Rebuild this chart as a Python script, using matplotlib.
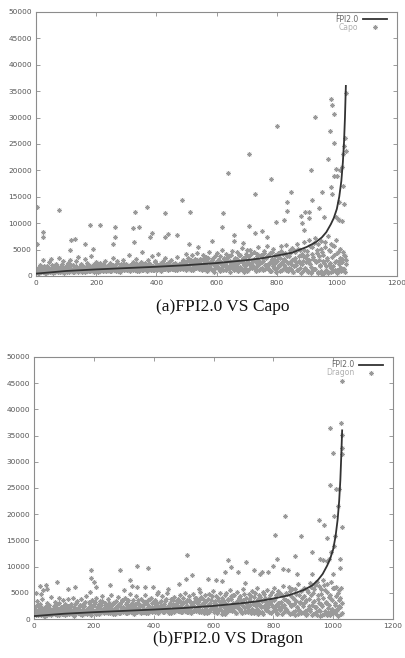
import numpy as np
import matplotlib
matplotlib.use("Agg")
import matplotlib.pyplot as plt

# ---------------- data ----------------
# FPI2.0 sorted curve (x index, value)
fpi_x = [0, 50, 100, 200, 300, 400, 500, 600, 700, 750, 800, 850, 900, 930, 950, 965, 980, 990, 1000, 1008, 1015, 1020, 1024, 1027, 1030]
fpi_top = [450, 700, 950, 1250, 1500, 1750, 2050, 2450, 3000, 3350, 3850, 4400, 5500, 6400, 7300, 8300, 9800, 11000, 12700, 15000, 18000, 21500, 25500, 30000, 36000]
fpi_bot = [550, 780, 1000, 1300, 1550, 1800, 2100, 2500, 3050, 3400, 3900, 4500, 5500, 6400, 7500, 8600, 10200, 11500, 13300, 15800, 19000, 22500, 26500, 31000, 36000]

# Capo: dense band (samples at indices 0,3,6,...), values in thousands
capo_band = [
    1.2, 0.8, 1.6, 0.6, 2.1, 1.0, 0.7, 1.4, 3.0, 0.9, 1.1, 0.5, 1.8, 0.8, 2.6, 1.3, 0.7, 3.2, 1.0, 0.6,
    1.5, 0.9, 2.2, 1.1, 0.7, 3.4, 1.3, 0.8, 1.9, 1.0, 2.8, 0.6, 1.2, 1.7, 0.9, 2.4, 1.1, 0.8, 3.1, 1.4,
    1.0, 2.0, 0.7, 1.6, 2.9, 1.2, 0.9, 3.6, 1.5, 1.1, 2.3, 0.8, 1.8, 1.3, 3.3, 1.0, 2.5, 0.9, 1.4, 2.1,
    1.2, 3.8, 1.6, 0.9, 2.2, 1.4, 2.7, 1.0, 1.9, 0.8, 1.5, 2.4, 1.1, 1.7, 0.9, 2.0, 1.3, 2.8, 1.0, 1.6,
    1.8, 1.1, 2.5, 0.9, 1.4, 3.5, 1.2, 2.0, 1.6, 1.0, 2.9, 1.3, 1.7, 0.8, 2.2, 1.5, 3.1, 1.1, 1.9, 1.4,
    2.3, 1.2, 1.7, 3.9, 1.0, 2.0, 1.5, 2.6, 1.1, 1.8, 1.3, 3.2, 1.6, 2.1, 0.9, 1.4, 2.7, 1.2, 4.5, 1.7,
    1.3, 2.4, 1.8, 1.0, 3.0, 1.5, 2.2, 1.2, 3.7, 1.6, 1.9, 1.1, 2.8, 1.4, 2.0, 4.2, 1.3, 1.7, 2.5, 1.0,
    1.8, 2.9, 1.4, 3.4, 1.6, 2.1, 1.2, 2.6, 1.9, 1.5, 3.1, 1.3, 2.3, 1.7, 1.1, 2.0, 3.6, 1.5, 2.2, 1.8,
    1.4, 2.5, 1.9, 3.0, 1.6, 2.2, 4.1, 1.3, 3.5, 2.0, 1.7, 2.8, 1.2, 3.9, 2.4, 1.5, 3.2, 2.1, 4.4, 1.8,
    2.6, 1.4, 3.3, 2.0, 1.1, 4.0, 2.3, 1.7, 3.6, 0.9, 2.8, 1.5, 4.6, 2.1, 1.3, 3.0, 2.5, 0.8, 3.8, 1.9,
    2.4, 4.3, 1.6, 3.1, 0.9, 2.7, 5.0, 1.8, 3.4, 2.2, 1.2, 4.1, 2.9, 1.5, 3.7, 0.7, 2.5, 4.8, 1.9, 3.0,
    1.4, 3.5, 2.2, 4.5, 1.0, 2.8, 3.9, 1.6, 5.3, 2.4, 0.8, 3.3, 1.9, 4.2, 2.6, 1.2, 3.7, 4.9, 2.0, 1.5,
    3.1, 4.6, 1.7, 2.9, 0.9, 3.8, 5.4, 2.3, 1.3, 4.0, 2.7, 3.4, 1.1, 4.8, 2.1, 3.6, 5.7, 1.6, 2.5, 4.3,
    1.0, 3.2, 2.4, 5.1, 1.5, 3.9, 0.8, 2.8, 4.4, 1.9, 3.5, 5.6, 2.2, 1.2, 4.1, 3.0, 1.7, 5.9, 2.6, 0.9,
    3.7, 4.9, 1.4, 2.9, 5.3, 0.7, 3.3, 4.5, 2.0, 6.1, 1.1, 3.8, 2.5, 5.0, 0.6, 4.2, 2.8, 6.5, 1.6, 3.4,
    4.8, 1.0, 3.0, 6.8, 2.2, 0.5, 5.5, 3.6, 1.4, 7.2, 2.7, 4.4, 0.8, 6.0, 3.1, 1.8, 5.1, 0.4, 4.0, 2.4,
    6.4, 1.2, 3.5, 0.6, 7.6, 2.0, 4.7, 1.5, 5.8, 0.9, 3.9, 2.6, 6.9, 1.1, 4.3, 0.7, 2.9, 5.2, 1.6, 3.3,
    4.6, 1.3, 3.8, 2.2,
]
# Capo: second dense band (samples at indices 1,4,7,...), thousands
capo_band2 = [
    0.9, 1.3, 0.6, 1.0, 1.5, 0.8, 1.2, 0.7, 1.9, 1.1, 0.6, 1.4, 0.9, 1.7, 1.0, 0.8, 1.3, 2.0, 0.7, 1.1,
    1.6, 0.8, 1.2, 1.9, 0.9, 1.4, 0.7, 1.1, 2.2, 1.3, 0.8, 1.5, 1.0, 1.8, 0.7, 1.2, 1.6, 0.9, 1.3, 2.0,
    1.1, 0.8, 1.5, 1.0, 1.8, 1.3, 0.7, 1.6, 1.2, 0.9, 2.1, 1.4, 1.0, 1.7, 0.8, 1.3, 1.9, 1.1, 0.9, 1.5,
    1.0, 1.4, 1.8, 1.1, 0.8, 1.6, 1.3, 2.1, 1.0, 1.5, 1.2, 0.9, 1.7, 1.3, 2.3, 1.1, 1.5, 0.9, 1.8, 1.2,
    1.5, 1.2, 0.9, 1.7, 1.3, 2.0, 1.1, 1.6, 1.4, 2.4, 1.0, 1.5, 1.2, 1.9, 1.4, 1.1, 1.7, 2.2, 1.3, 1.6,
    1.2, 1.8, 1.4, 1.1, 2.1, 1.5, 1.3, 1.9, 1.6, 1.2, 2.5, 1.4, 1.0, 1.8, 1.5, 2.2, 1.3, 1.7, 1.1, 2.0,
    1.6, 1.3, 2.0, 1.5, 1.2, 2.3, 1.7, 1.4, 1.9, 1.1, 1.6, 2.6, 1.4, 1.8, 1.2, 2.1, 1.5, 1.3, 2.4, 1.7,
    1.4, 2.0, 1.6, 1.3, 2.2, 1.8, 1.5, 2.7, 1.3, 1.9, 1.6, 2.3, 1.4, 1.7, 2.5, 1.5, 1.2, 2.1, 1.8, 1.6,
    2.0, 1.5, 2.6, 1.3, 1.8, 2.3, 1.1, 2.9, 1.7, 2.1, 1.4, 3.0, 1.6, 2.4, 1.2, 2.7, 1.9, 1.5, 3.1, 2.2,
    1.6, 2.9, 1.3, 2.3, 1.8, 3.2, 1.4, 2.6, 2.0, 1.1, 3.4, 1.7, 2.4, 1.5, 2.9, 1.2, 3.5, 2.1, 1.6, 2.7,
    1.8, 3.1, 1.4, 2.5, 3.8, 1.6, 2.2, 1.1, 3.3, 2.0, 2.7, 1.5, 3.6, 1.9, 1.3, 2.8, 3.9, 1.7, 2.3, 1.2,
    2.6, 1.8, 3.2, 1.3, 2.4, 4.0, 1.7, 2.9, 1.2, 3.5, 2.1, 1.5, 3.8, 2.5, 1.0, 3.0, 2.2, 1.6, 4.1, 2.7,
    1.9, 3.3, 1.4, 2.6, 4.2, 1.8, 3.0, 1.2, 2.4, 3.7, 1.6, 2.8, 4.4, 1.3, 3.4, 2.0, 1.5, 3.9, 2.3, 1.0,
    2.9, 4.5, 1.8, 3.3, 1.3, 2.5, 4.0, 1.6, 3.6, 2.1, 0.9, 4.7, 2.7, 1.4, 3.2, 2.0, 4.3, 1.1, 3.8, 2.4,
    1.5, 4.4, 2.2, 3.0, 0.8, 4.9, 1.9, 3.5, 2.6, 1.2, 5.2, 2.9, 1.6, 4.0, 2.3, 0.9, 3.7, 5.0, 1.4, 2.7,
    3.9, 0.7, 2.5, 5.6, 1.7, 4.2, 0.9, 3.2, 6.2, 1.3, 2.8, 5.0, 0.6, 3.7, 2.1, 6.6, 1.0, 4.6, 2.9, 0.5,
    5.4, 1.8, 3.0, 0.8, 4.9, 2.4, 6.1, 0.7, 3.6, 1.9, 5.6, 1.2, 2.8, 0.5, 4.5, 2.2, 1.5, 3.4, 0.9, 2.6,
    1.4, 4.0, 0.8, 3.1,
]
# Capo: scattered high values (index, thousands)
capo_out_x = [4, 4, 24, 24, 76, 116, 131, 113, 163, 181, 212, 190, 255, 262, 262, 321, 329, 326, 344, 369,
              379, 385, 428, 428, 440, 468, 484, 513, 509, 540, 586, 617, 621, 638, 658, 658, 688, 700, 709, 709,
              729, 728, 751, 767, 782, 800, 798, 825, 833, 833, 846, 881, 883, 890, 893, 906, 909, 914, 917, 927,
              940, 951, 956, 972, 978, 981, 985, 992, 992, 980, 983, 989, 998, 1000, 1006, 1011, 1017, 1020, 1022, 1024,
              1027, 1029, 1029, 1025, 998, 1003, 1007, 1018]
capo_out_y = [13.1, 6.05, 8.4, 7.3, 12.5, 6.9, 7.0, 5.0, 6.05, 9.6, 9.6, 5.2, 6.05, 9.3, 7.3, 9.0, 12.1, 6.4, 9.2, 13.0,
              7.3, 8.1, 12.0, 7.4, 7.9, 7.7, 14.4, 12.1, 6.05, 5.5, 6.7, 9.3, 11.9, 19.5, 7.7, 6.7, 6.3, 4.9, 23.1, 9.5,
              15.5, 8.2, 8.6, 7.3, 18.3, 28.4, 10.2, 10.7, 14.0, 12.4, 15.9, 11.4, 10.1, 8.7, 12.2, 11.0, 12.1, 20.0, 14.4, 30.1,
              12.9, 15.9, 11.1, 22.1, 27.4, 33.5, 32.4, 30.6, 25.2, 16.8, 15.6, 19.0, 20.2, 19.0, 14.1, 20.0, 20.7, 17.0, 23.1, 24.7,
              26.2, 34.7, 23.7, 13.6, 11.2, 10.8, 10.6, 10.5]

# Dragon: dense band (samples at indices 0,3,6,...), thousands
dragon_band = [
    1.6, 0.9, 2.4, 3.5, 1.2, 0.7, 1.9, 2.8, 1.0, 3.9, 1.4, 0.6, 2.2, 1.1, 3.1, 0.8, 1.7, 2.6, 1.3, 4.2,
    0.9, 2.0, 1.5, 3.3, 1.1, 2.7, 0.7, 1.8, 4.0, 1.2, 2.3, 1.0, 3.6, 1.6, 0.8, 2.9, 1.3, 2.1, 3.8, 1.0,
    1.9, 2.5, 1.1, 4.1, 1.5, 0.6, 2.8, 1.8, 3.4, 1.2, 2.2, 0.9, 3.9, 1.6, 2.6, 1.0, 3.0, 1.4, 4.3, 2.0,
    1.2, 3.2, 1.7, 2.4, 0.8, 3.7, 1.5, 2.9, 1.1, 4.0, 1.9, 2.3, 1.0, 3.4, 1.6, 2.7, 4.4, 1.3, 2.0, 3.0,
    1.4, 2.6, 3.8, 1.1, 2.2, 1.7, 4.6, 1.3, 3.1, 2.0, 1.0, 3.5, 1.8, 2.5, 4.2, 1.2, 2.9, 1.6, 3.7, 2.3,
    1.5, 4.0, 2.1, 1.2, 3.3, 2.7, 1.7, 4.8, 1.4, 2.4, 3.6, 1.0, 2.9, 1.9, 4.3, 1.3, 3.0, 2.2, 1.6, 3.9,
    2.5, 1.4, 3.4, 1.9, 4.5, 1.1, 2.8, 3.7, 1.6, 2.2, 4.1, 1.3, 3.0, 2.0, 1.5, 3.6, 2.6, 4.7, 1.2, 2.3,
    3.2, 1.8, 2.7, 4.4, 1.4, 2.1, 3.5, 1.7, 4.9, 2.4, 1.2, 3.1, 2.0, 3.8, 1.5, 2.9, 4.2, 1.9, 2.5, 3.4,
    1.6, 3.9, 2.2, 4.6, 1.3, 2.8, 3.3, 1.8, 5.0, 2.5, 1.4, 3.7, 2.0, 4.3, 1.7, 3.0, 2.4, 4.8, 1.5, 3.5,
    2.1, 4.0, 1.8, 3.2, 2.6, 5.1, 1.4, 2.9, 3.8, 1.6, 4.5, 2.3, 3.4, 1.2, 2.7, 4.7, 1.9, 3.6, 2.2, 5.3,
    1.7, 3.1, 2.5, 4.4, 1.3, 3.7, 2.0, 5.0, 2.8, 1.5, 4.1, 2.4, 3.3, 0.9, 4.9, 2.1, 3.6, 1.8, 5.5, 2.7,
    3.9, 1.6, 4.6, 2.3, 3.0, 1.1, 5.2, 2.6, 3.8, 1.9, 4.3, 1.4, 3.4, 5.7, 2.2, 1.3, 4.0, 2.9, 1.7, 4.8,
    2.4, 3.5, 1.2, 5.4, 2.8, 4.2, 1.6, 3.2, 5.9, 2.0, 1.0, 4.5, 2.6, 3.7, 1.4, 5.1, 2.2, 4.0, 1.8, 3.3,
    5.6, 1.5, 2.9, 4.6, 1.1, 3.6, 2.3, 6.0, 1.7, 4.1, 2.7, 0.9, 5.3, 3.1, 1.9, 4.7, 2.5, 6.3, 1.3, 3.8,
    2.1, 5.0, 1.6, 3.4, 6.2, 1.0, 4.3, 2.6, 5.7, 1.4, 3.9, 0.8, 4.8, 2.3, 6.6, 1.8, 3.2, 5.4, 1.2, 4.1,
    2.8, 6.0, 1.5, 3.7, 0.9, 5.2, 2.4, 6.9, 1.9, 4.5, 0.7, 3.3, 5.8, 2.2, 1.3, 7.1, 3.9, 1.7, 6.3, 0.6,
    4.7, 2.5, 7.4, 1.0, 5.5, 3.0, 0.8, 6.7, 2.1, 4.2, 1.4, 7.0, 3.6, 1.1, 5.9, 2.7, 0.9, 6.2, 1.8, 4.9,
    5.6, 2.3, 6.0, 1.2,
]
# Dragon: second dense band (samples at indices 1,4,7,...), thousands
dragon_band2 = [
    1.2, 2.0, 0.8, 1.5, 2.6, 1.0, 1.8, 0.7, 2.3, 1.3, 1.0, 1.9, 0.6, 1.6, 2.4, 1.1, 0.9, 2.0, 1.4, 0.8,
    1.7, 1.1, 2.5, 0.9, 1.4, 2.1, 1.2, 3.0, 0.8, 1.6, 1.3, 2.2, 1.0, 1.8, 2.7, 1.2, 0.9, 1.5, 2.4, 1.1,
    1.4, 2.8, 1.0, 1.7, 2.2, 0.9, 1.5, 3.1, 1.3, 2.0, 1.1, 2.6, 1.6, 0.8, 1.9, 2.4, 1.2, 3.3, 1.5, 1.0,
    2.1, 1.4, 2.9, 1.1, 1.8, 2.5, 1.3, 1.6, 3.2, 1.0, 2.2, 1.5, 2.8, 1.2, 1.9, 3.4, 1.4, 2.0, 1.1, 2.6,
    1.3, 2.3, 1.7, 3.0, 1.2, 2.0, 1.5, 2.7, 1.0, 1.8, 3.3, 1.4, 2.2, 1.6, 2.9, 1.1, 2.4, 1.7, 3.5, 1.3,
    2.1, 1.6, 2.8, 1.2, 3.6, 1.9, 1.4, 2.5, 1.7, 3.1, 1.1, 2.3, 1.8, 2.9, 1.3, 2.0, 3.7, 1.5, 2.6, 1.2,
    1.8, 2.7, 1.4, 3.2, 2.0, 1.6, 2.9, 1.2, 2.3, 3.8, 1.5, 2.1, 1.7, 3.3, 1.3, 2.5, 1.9, 3.0, 1.4, 2.2,
    1.6, 3.4, 1.9, 2.4, 1.3, 2.8, 2.0, 3.9, 1.5, 2.2, 1.8, 3.1, 1.2, 2.6, 2.0, 3.6, 1.4, 2.3, 1.7, 3.0,
    2.2, 1.5, 3.5, 1.9, 2.7, 1.3, 4.0, 2.1, 1.6, 3.2, 2.5, 1.4, 3.7, 1.8, 2.3, 1.2, 3.0, 2.6, 1.7, 4.1,
    1.5, 3.0, 2.0, 3.6, 1.3, 2.4, 4.2, 1.8, 2.8, 1.1, 3.4, 2.2, 1.6, 3.9, 2.6, 1.4, 3.1, 1.9, 4.4, 2.3,
    1.4, 3.5, 2.1, 2.8, 1.2, 4.0, 1.9, 3.2, 2.5, 1.0, 3.7, 2.3, 4.5, 1.6, 2.9, 1.3, 3.8, 2.4, 1.8, 4.3,
    2.0, 3.1, 1.5, 4.6, 2.6, 1.2, 3.4, 2.1, 4.1, 1.7, 2.9, 1.1, 3.6, 2.4, 4.8, 1.6, 3.0, 2.2, 1.3, 3.9,
    2.7, 1.5, 4.4, 2.0, 3.3, 1.2, 4.9, 2.5, 1.8, 3.8, 2.9, 1.4, 4.2, 2.2, 3.5, 1.0, 4.7, 2.6, 1.7, 3.1,
    2.3, 4.0, 1.4, 3.4, 2.8, 5.1, 1.6, 3.7, 2.0, 4.5, 1.2, 3.0, 2.5, 5.0, 1.8, 3.3, 0.9, 4.3, 2.6, 1.5,
    3.6, 2.0, 4.8, 1.3, 3.1, 5.3, 2.4, 1.1, 4.1, 2.8, 5.8, 1.6, 3.5, 2.2, 0.9, 4.6, 3.0, 1.4, 5.5, 2.5,
    1.2, 4.3, 3.2, 0.8, 5.6, 2.0, 3.8, 1.5, 6.1, 2.7, 4.9, 1.0, 3.5, 6.4, 2.3, 0.7, 4.5, 3.0, 1.6, 5.8,
    2.9, 0.8, 4.0, 6.5, 1.5, 3.3, 5.2, 1.1, 2.6, 4.6, 0.7, 3.8, 2.0, 5.9, 1.3, 3.1, 4.4, 1.9, 0.6, 3.6,
    2.4, 4.1, 1.0, 3.0,
]
dragon_out_x = [20, 29, 39, 22, 6, 42, 78, 115, 138, 192, 192, 201, 207, 187, 254, 287, 300, 321, 327, 345,
                343, 372, 381, 398, 416, 448, 485, 507, 511, 528, 551, 582, 610, 628, 640, 649, 657, 683, 710, 705,
                735, 755, 763, 783, 800, 805, 811, 831, 838, 850, 872, 894, 880, 928, 930, 954, 969, 978, 989, 989,
                1000, 1004, 1006, 1011, 1017, 1020, 1027, 1028, 1029, 1031, 1031, 1029, 1022, 1024, 993, 1003, 986, 967,
                955, 978, 1000]
dragon_out_y = [6.3, 5.6, 6.5, 4.8, 4.9, 5.8, 7.1, 5.8, 6.2, 9.3, 7.9, 7.0, 6.1, 5.2, 6.5, 9.4, 5.6, 7.4, 6.3, 10.2,
                6.2, 6.2, 9.8, 6.2, 5.2, 5.7, 6.7, 7.7, 12.3, 8.4, 5.8, 7.6, 7.5, 7.2, 8.9, 11.2, 10.0, 9.0, 10.8, 6.9,
                9.3, 8.6, 9.0, 9.0, 10.2, 16.0, 11.5, 9.5, 19.6, 9.3, 12.1, 15.8, 8.5, 12.8, 8.5, 18.9, 17.9, 15.5, 36.4, 25.6,
                31.7, 19.6, 15.9, 24.9, 21.6, 24.9, 37.4, 45.4, 35.2, 31.4, 32.6, 17.5, 11.4, 9.8, 12.8, 14.0, 11.4, 11.2,
                11.4, 11.0, 8.5]

x_ticks = [0, 200, 400, 600, 800, 1000, 1200]
y_ticks = [0, 5000, 10000, 15000, 20000, 25000, 30000, 35000, 40000, 45000, 50000]

# ---------------- style ----------------
PT_COLOR = "#9a9a9a"
LINE_COLOR = "#333333"
FRAME = "#8c8c8c"
TICKLAB = "#555555"
MARKER = (8, 2, 0)

fig = plt.figure(figsize=(4.05, 6.58), dpi=100)
fig.patch.set_facecolor("white")


def panel(rect, band, band2, ox, oy, curve, name, title, title_xy, leg_y):
    ax = fig.add_axes(rect)
    bx = np.arange(len(band)) * 3
    bx2 = np.arange(len(band2)) * 3 + 1
    for xs, ys in ((bx, band), (bx2, band2), (ox, oy)):
        ax.scatter(xs, np.array(ys) * 1000, marker=MARKER, s=9, linewidths=0.55,
                   color=PT_COLOR, zorder=2)
    ax.plot(fpi_x, curve, color=LINE_COLOR, lw=1.3, zorder=3)
    ax.set_xlim(0, 1200)
    ax.set_ylim(0, 50000)
    ax.set_xticks(x_ticks)
    ax.set_yticks(y_ticks)
    ax.tick_params(direction="in", length=3, width=0.6, color=FRAME,
                   labelsize=5.3, labelcolor=TICKLAB, top=True, right=True, pad=3)
    for s in ax.spines.values():
        s.set_color(FRAME)
        s.set_linewidth(0.8)
    # legend, gnuplot style
    ax.text(0.893, leg_y, "FPI2.0", transform=ax.transAxes, ha="right", va="center",
            fontsize=5.5, color="#666666")
    ax.plot([0.906, 0.972], [leg_y, leg_y], transform=ax.transAxes, color=LINE_COLOR, lw=1.3)
    ax.text(0.893, leg_y - 0.031, name, transform=ax.transAxes, ha="right", va="center",
            fontsize=5.5, color="#b0b0b0")
    ax.scatter([0.939], [leg_y - 0.031], transform=ax.transAxes, marker=MARKER, s=9,
               linewidths=0.55, color=PT_COLOR)
    fig.text(title_xy[0], title_xy[1], title, ha="center", va="center",
             fontsize=12.5, family="Liberation Serif", color="#111111")
    return ax


panel([36 / 405, 1 - 276 / 658, 361 / 405, 264 / 658], capo_band, capo_band2, capo_out_x, capo_out_y,
      fpi_top, "Capo", "(a)FPI2.0 VS Capo", (223 / 405, 1 - 307 / 658), 0.973)
panel([34 / 405, 1 - 619 / 658, 359 / 405, 262 / 658], dragon_band, dragon_band2, dragon_out_x, dragon_out_y,
      fpi_bot, "Dragon", "(b)FPI2.0 VS Dragon", (228 / 405, 1 - 639 / 658), 0.97)

fig.savefig("out.png", dpi=100, facecolor="white")
